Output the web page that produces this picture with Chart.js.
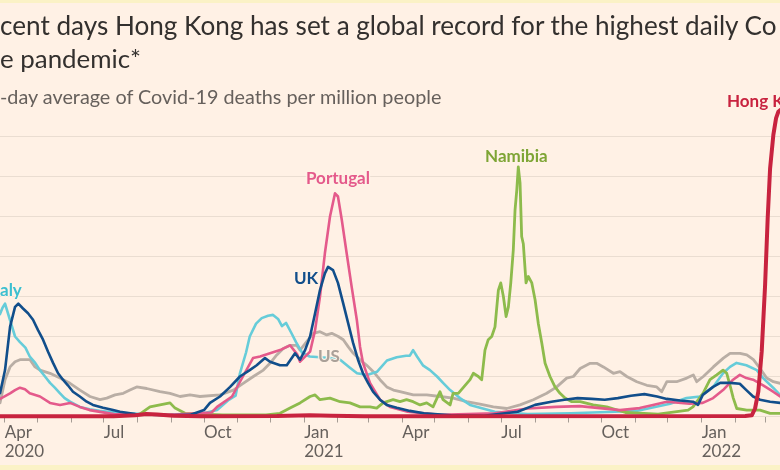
<!DOCTYPE html>
<html>
<head>
<meta charset="utf-8">
<script src="https://cdn.jsdelivr.net/npm/chart.js@4"></script>
<style>
  html, body { margin: 0; padding: 0; background: #fff1e5; }
  #wrap { position: relative; width: 780px; height: 470px; overflow: hidden; background: #fff1e5; }
  #chart { position: absolute; left: 0; top: 0; }
  .txt { position: absolute; white-space: nowrap; line-height: 1.2; font-family: Lato, "Open Sans", sans-serif; }
  .lab { font-weight: 700; text-shadow: 0 0 2px #fff1e5, 0 0 2px #fff1e5, 1px 0 1px #fff1e5, -1px 0 1px #fff1e5, 0 1px 1px #fff1e5, 0 -1px 1px #fff1e5; }
  .band { position: absolute; left: 0; width: 780px; background: #fbf2c6; }
</style>
</head>
<body>
<div id="wrap">
  <canvas id="chart" width="780" height="470"></canvas>
  <div class="band" style="top:0;height:3px"></div>
  <div class="band" style="top:465px;height:5px"></div>
</div>
<script>
// ---- data (x = days since 1 April 2020, y = 7-day avg deaths per million) ----
const monthStarts = [0,30,61,91,122,153,183,214,244,275,306,334,365,395,426,456,487,518,548,579,609,640,671,699];
const monthLabels = [["Apr","2020"],"","","Jul","","","Oct","","",["Jan","2021"],"","","Apr","","","Jul","","","Oct","","",["Jan","2022"],"",""];
const yTicks = [0,5,10,15,20,25,30,35];

const italyDays = [-4.3,-2,0.3,5,9.5,14,19,23,28,32.4,37,41.6,46,50.8,55,60,69,78,87,97,110,130,150,180,195,205,212,216,221.6,225,230.8,236,241.8,246.4,251,254.6,258.3,263,267.5,273,280,289.5,298.7,308,317,323.5,332.7,342,351,360,368.5,372,375,378.6,384,390.5,397,402.5,409,418,427.3,436.5,450,480,520,560,580,611,626,638.5,650.5,659.6,666,672,681,690.6,696.4,705.6,712];
const italyValues = [12.8,13.6,14.1,12.0,10.0,9.3,8.6,7.5,6.7,5.8,5.0,4.2,3.6,2.9,2.3,1.85,1.2,0.9,0.7,0.55,0.4,0.3,0.2,0.3,0.8,2.0,2.6,5.4,8.0,10.0,11.6,12.3,12.6,12.7,12.2,11.3,11.7,10.5,9.3,8.0,7.5,7.4,7.3,7.1,6.1,5.4,5.2,5.6,7.0,7.4,7.6,7.6,8.3,7.5,6.4,5.8,5.0,4.2,3.3,2.3,1.45,1.1,0.6,0.3,0.4,0.6,0.7,1.6,2.3,2.5,3.7,5.4,6.2,6.7,6.4,5.8,4.8,3.6,2.7];

const ukDays = [-4.3,0.3,4.9,9.5,12.5,16.8,21.4,26,30.6,35.2,39.8,44.4,49,53.5,58,62.7,69,75.3,81,90.3,99.5,105.9,120,150,170,183,188.5,197.7,207,216,225,231.4,239,243.6,252.8,259,266.6,271.2,275.8,280.4,285,289.5,294,296.9,301.5,306,310.7,315.3,319.9,324.4,329,333.6,338.2,344.6,350.8,360,372,385,410,440,471,487,502,514,526,539,551,563,575,587.4,599,608,620,632,636.6,641,650.5,657,666,675,681,687.2,693.6,702.8,712];
const ukValues = [2.9,5.8,11.2,13.7,14.1,13.5,12.9,12.1,10.8,9.6,8.1,6.7,5.4,4.6,3.9,3.1,2.5,1.85,1.45,1.1,0.8,0.6,0.3,0.15,0.2,0.8,1.7,2.5,3.7,5.0,5.8,6.4,7.3,6.85,6.4,6.4,7.9,7.1,8.3,10.0,12.9,15.8,17.9,18.7,18.3,16.7,14.2,11.7,9.2,7.1,5.4,4.2,3.1,2.1,1.45,1.1,0.7,0.4,0.15,0.1,0.6,1.45,1.85,2.1,2.3,2.2,2.1,2.3,2.6,2.8,2.5,2.2,2.0,1.85,1.45,2.7,3.7,4.2,4.2,4.1,3.3,2.5,2.1,1.85,1.7];

const portugalDays = [-4.3,4.9,9.5,14,18.6,23,32.4,41.6,50.8,60,69,78,100,150,190,195,208.7,220.7,228,234.5,243.6,252.8,262,268.4,271.2,280.4,285,289.5,294,298.7,303.3,306,309.5,314,318.6,323.3,326.3,329,335.4,344.6,353.8,370,400,450,480,506.2,528,546.6,565,583,595.3,608,629,641,650.5,659.6,668.8,675,681,687.2,696.4,705.6,712];
const portugalValues = [2.2,2.9,3.3,3.6,3.4,2.9,2.5,1.7,1.45,1.7,1.2,0.8,0.3,0.2,0.5,1.2,2.5,5.5,7.3,7.5,7.9,8.3,8.9,7.8,6.85,8.1,10.8,15.0,20.4,25.0,27.9,27.5,24.6,20.4,16.2,12.1,8.7,6.7,4.2,2.1,1.2,0.6,0.2,0.4,1.0,1.2,1.3,1.05,0.8,1.05,1.45,1.85,1.6,1.7,2.3,3.3,4.6,5.2,4.8,4.6,3.9,3.1,2.5];

const namibiaDays = [-4.3,100,124,133.4,142.6,151.8,156.4,165.6,200,240,252.8,262,271.2,280.4,285,289.5,298.7,308,317,326.3,335.4,341.6,347.4,356.6,363,369,375,381.4,387.5,393.3,399.7,402.5,409,411.7,416.5,421,427.3,430.3,434.9,438,441,444,447.2,450.2,453.3,455.5,457.9,460.4,462.5,464.7,467,468.6,470.2,471.6,473.2,474.7,476.2,478.7,480.8,484,487,490,493.2,496.2,500.7,505.3,509.9,514.5,520.7,528.4,540.4,552.8,570,600,627.5,632,641.2,647.6,653.8,659.6,663,666,669,672.2,681.4,693.6,702.8,712];
const namibiaValues = [0,0.05,0.3,1.2,1.45,1.7,1.05,0.4,0.2,0.2,0.4,1.05,1.7,2.5,2.7,2.1,2.3,1.85,1.7,1.2,1.2,1.05,1.7,2.1,1.85,2.1,1.85,1.45,1.7,1.2,3.1,2.1,1.45,2.9,2.9,3.6,4.6,5.4,5.0,4.6,8.3,9.6,10.0,11.2,15.8,16.7,15.0,12.5,13.7,16.7,20.8,25.8,28.3,31.2,29.2,22.5,21.6,16.7,17.5,16.7,14.6,11.6,9.15,6.65,5.0,3.7,2.9,2.3,1.85,1.85,1.45,1.2,0.5,0.3,0.8,1.2,2.9,4.6,5.2,5.8,5.4,3.9,2.3,1.0,0.8,0.8,0.4,0.4];

const usDays = [-4.3,0.3,4.9,9.5,14,23.2,27.8,32.4,41.6,50.8,60,69.1,78.3,87.5,93.7,101.3,108.9,115,121.2,130.4,142.6,151.8,161,170.2,179.3,197.7,210,219,228.3,237.5,243.6,249.8,255.8,262,268.1,271.2,277.3,283.4,289.5,295.7,300.3,306.3,310.9,315.5,320.1,326.3,332.4,338.5,344.6,350.8,356.9,363,375.2,387.5,399.7,411.9,424.2,436.4,448.7,461,473.2,485.4,497.7,506.9,516,522.2,528.4,537.6,543.6,549.7,558.9,565,571.2,580.4,589.6,598.7,603.3,608,617,626.3,632.3,635.4,641.5,650.7,659.9,666,675.2,681.4,687.5,693.6,699.7,705.8,712];
const usValues = [1.7,4.6,6.2,6.85,7.1,7.1,6.2,5.8,5.4,4.8,4.15,3.3,2.5,2.1,2.3,2.7,2.9,3.3,3.7,3.5,3.1,2.9,2.5,2.7,2.5,2.7,3.3,4.15,5.0,5.8,6.65,7.7,8.5,8.9,8.9,8.3,9.35,10.4,10.6,10.2,10.4,10.0,9.6,8.7,7.9,7.1,6.4,5.6,4.6,3.7,3.3,3.1,2.7,2.7,2.5,2.3,1.85,1.55,1.2,1.0,1.45,2.1,2.9,3.7,4.8,5.0,6.0,6.65,6.65,6.2,5.4,5.6,5.0,4.35,3.9,3.7,3.1,4.35,4.35,4.8,5.2,4.35,5.0,6.2,7.3,7.9,7.9,7.7,7.1,6.0,4.8,4.35,4.15];

const hongKongDays = [-4.3,100,120,130,140,155,180,250,280,300,330,680,686,689,692,695.1,698.2,700.6,702.8,705.8,708.3,710.4,712];
const hongKongValues = [0.02,0.02,0.15,0.3,0.25,0.1,0.03,0.05,0.15,0.1,0.03,0.05,0.15,1.0,3.1,8.1,16.4,24.8,31.0,35.2,37.3,38.1,38.3];

// ---- texts ----
const FONT = 'Lato, "Open Sans", sans-serif';
const LABEL_SIZE = 17;
const texts = [
  {t:'cent days Hong Kong has set a global record for the highest daily Co', fit:'cent days Hong Kong has set a global record for the highest daily', w:739, x:0, base:36, weight:400, color:'#33302e'},
  {t:'e pandemic*', fit:'e pandemic*', w:141, x:0, base:68.5, weight:400, color:'#33302e'},
  {t:'-day average of Covid-19 deaths per million people', fit:'-day average of Covid-19 deaths per million people', w:443, x:0, base:105, weight:400, color:'#66605c'},
  {t:'aly', x:0, base:297, weight:700, color:'#3cbfd0', lab:true},
  {t:'UK', x:294, base:285, weight:700, color:'#114e8b', lab:true},
  {t:'Portugal', x:306, base:185, weight:700, color:'#e45a8b', lab:true},
  {t:'US', x:318, base:362.5, weight:700, color:'#aaa098', lab:true},
  {t:'Namibia', x:485, base:162.5, weight:700, color:'#7ea535', lab:true},
  {t:'Hong K', x:727, base:108, weight:700, color:'#c8233f', lab:true}
];

const mctx = document.createElement('canvas').getContext('2d');
const wrap = document.getElementById('wrap');
texts.forEach(o => {
  mctx.font = `${o.weight} 100px ${FONT}`;
  const m = mctx.measureText(o.fit || o.t);
  const fs = o.fit ? 100 * o.w / m.width : LABEL_SIZE;
  const asc = (m.fontBoundingBoxAscent || 98.7) / 100;
  const desc = (m.fontBoundingBoxDescent || 21.3) / 100;
  const half = (1.2 - asc - desc) / 2;
  const d = document.createElement('div');
  d.className = 'txt' + (o.lab ? ' lab' : '');
  d.textContent = o.t;
  d.style.fontSize = fs.toFixed(2) + 'px';
  d.style.fontWeight = o.weight;
  d.style.color = o.color;
  d.style.left = o.x + 'px';
  d.style.top = (o.base - (half + asc) * fs).toFixed(2) + 'px';
  wrap.appendChild(d);
});

// ---- chart ----
const pts = (days, vals) => days.map((d, i) => ({x: d, y: vals[i]}));
const series = [
  {label:'Hong Kong', data: pts(hongKongDays, hongKongValues), color:'#c8233f', w:4},
  {label:'UK', data: pts(ukDays, ukValues), color:'#114e8b', w:2.6},
  {label:'Portugal', data: pts(portugalDays, portugalValues), color:'#e45a8b', w:2.6},
  {label:'Namibia', data: pts(namibiaDays, namibiaValues), color:'#8dbb4c', w:2.8},
  {label:'Italy', data: pts(italyDays, italyValues), color:'#66ccd9', w:2.6},
  {label:'US', data: pts(usDays, usValues), color:'#b9aea5', w:2.8}
];

new Chart(document.getElementById('chart'), {
  type: 'line',
  data: {
    datasets: series.map(s => ({
      label: s.label, data: s.data, borderColor: s.color, borderWidth: s.w,
      pointRadius: 0, tension: 0, fill: false, borderJoinStyle: 'round', borderCapStyle: 'round',
      clip: 8
    }))
  },
  options: {
    responsive: false,
    animation: false,
    layout: {padding: {top: 96.5, left: 0, right: 0, bottom: 0}},
    plugins: {legend: {display: false}, tooltip: {enabled: false}},
    scales: {
      x: {
        type: 'linear', min: -4.32, max: 711.9,
        afterBuildTicks: s => { s.ticks = monthStarts.map(v => ({value: v})); },
        afterFit: s => { s.height = 53.5; },
        grid: {drawOnChartArea: false, drawTicks: true, tickLength: 6, color: '#a59c94', lineWidth: 1},
        border: {display: false},
        ticks: {
          autoSkip: false, maxRotation: 0, minRotation: 0, align: 'start', padding: 1,
          color: '#66605c', font: {family: FONT, size: 17, lineHeight: 1.08},
          callback: v => { const i = monthStarts.indexOf(v); return i >= 0 ? monthLabels[i] : ''; }
        }
      },
      y: {
        min: 0, max: 40,
        afterBuildTicks: s => { s.ticks = yTicks.map(v => ({value: v})); },
        grid: {color: '#eaddd1', drawTicks: false, lineWidth: 1},
        border: {display: false},
        ticks: {display: false}
      }
    }
  }
});
</script>
</body>
</html>
